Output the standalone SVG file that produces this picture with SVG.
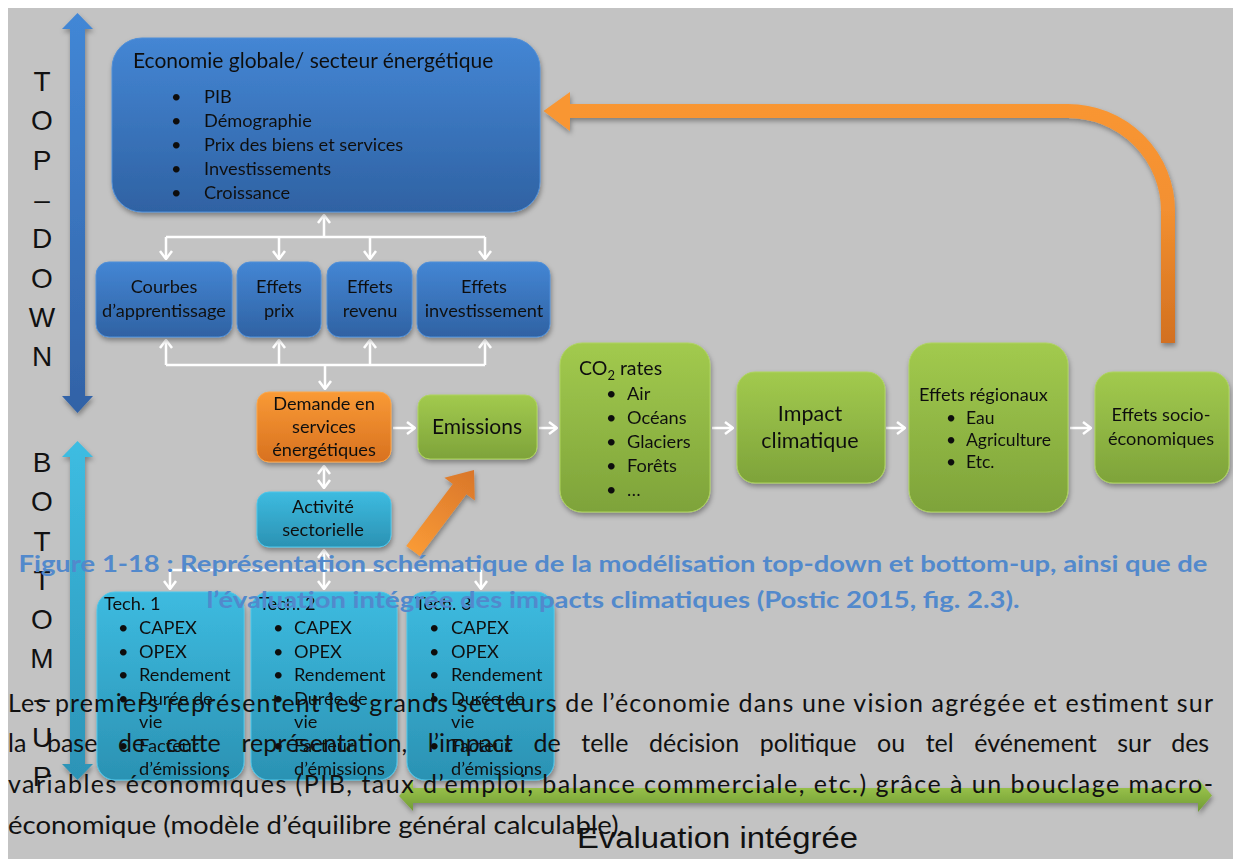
<svg xmlns="http://www.w3.org/2000/svg" width="1233" height="859" viewBox="0 0 1233 859">
<style>
.t{font-family:Lato,"Open Sans","Liberation Sans",sans-serif;fill:#111;}
.s16{font-size:17.5px}.s17{font-size:18.2px}.s18{font-size:19.5px}.s19{font-size:21px}.s20{font-size:21px}
.m{text-anchor:middle}
.big{font-family:"Liberation Sans",Arial,sans-serif;font-size:28px;fill:#111;text-anchor:middle}
.cap{font-family:Lato,"Open Sans",sans-serif;font-weight:bold;font-size:23.5px;fill:#5289cc;text-anchor:middle}
.par{font-family:Lato,"Open Sans",sans-serif;font-size:25px;fill:#111}
.con{fill:none;stroke:#fff;stroke-width:2.5}
</style>
<defs>
<filter id="sh" x="-10%" y="-10%" width="130%" height="140%"><feDropShadow dx="1" dy="3" stdDeviation="2.5" flood-color="#000" flood-opacity="0.35"/></filter>
<linearGradient id="gB" x1="0" y1="0" x2="0" y2="1"><stop offset="0" stop-color="#4486d4"/><stop offset="1" stop-color="#2f62a3"/></linearGradient>
<linearGradient id="gO" x1="0" y1="0" x2="0" y2="1"><stop offset="0" stop-color="#f99a36"/><stop offset="1" stop-color="#d8711f"/></linearGradient>
<linearGradient id="gG" x1="0" y1="0" x2="0" y2="1"><stop offset="0" stop-color="#a2ca4e"/><stop offset="1" stop-color="#7ea33a"/></linearGradient>
<linearGradient id="gC" x1="0" y1="0" x2="0" y2="1"><stop offset="0" stop-color="#3dbbe0"/><stop offset="1" stop-color="#2b92b3"/></linearGradient>
<linearGradient id="gTD" gradientUnits="userSpaceOnUse" x1="0" y1="13" x2="0" y2="413"><stop offset="0" stop-color="#4287d6"/><stop offset="1" stop-color="#3262a6"/></linearGradient>
<linearGradient id="gBU" gradientUnits="userSpaceOnUse" x1="0" y1="441" x2="0" y2="781"><stop offset="0" stop-color="#3dbde2"/><stop offset="1" stop-color="#2c93b6"/></linearGradient>
<linearGradient id="gFB" gradientUnits="userSpaceOnUse" x1="0" y1="100" x2="0" y2="343"><stop offset="0" stop-color="#f99633"/><stop offset="0.45" stop-color="#f39030"/><stop offset="1" stop-color="#d27020"/></linearGradient>
<linearGradient id="gDi" gradientUnits="userSpaceOnUse" x1="413" y1="551" x2="474" y2="470"><stop offset="0" stop-color="#f99a36"/><stop offset="1" stop-color="#d9762a"/></linearGradient>
<linearGradient id="gEv" gradientUnits="userSpaceOnUse" x1="0" y1="780" x2="0" y2="812"><stop offset="0" stop-color="#a4cc50"/><stop offset="1" stop-color="#6f9a34"/></linearGradient>
<marker id="ch" viewBox="0 0 10 14" refX="9" refY="7" markerWidth="10" markerHeight="14" markerUnits="userSpaceOnUse" orient="auto-start-reverse"><path d="M1,1 L9,7 L1,13" fill="none" stroke="#fff" stroke-width="2.5"/></marker>
</defs>

<rect x="8" y="8" width="1225" height="851" fill="#c3c3c3"/>

<!-- side arrows -->
<g id="top-down-arrow" filter="url(#sh)">
<polygon points="77.5,13 93,29 85,29 85,396 93,396 77.5,413 62,396 70,396 70,29 62,29" fill="url(#gTD)"/>
</g>
<g id="bottom-up-arrow" filter="url(#sh)">
<polygon points="77.5,441 93,457 85,457 85,764 93,764 77.5,780 62,764 70,764 70,457 62,457" fill="url(#gBU)"/>
</g>
<g id="top-down-label">
<text class="big" x="42" y="91">T</text>
<text class="big" x="42" y="130">O</text>
<text class="big" x="42" y="170">P</text>
<text class="big" x="42" y="209">–</text>
<text class="big" x="42" y="248">D</text>
<text class="big" x="42" y="288">O</text>
<text class="big" x="42" y="327">W</text>
<text class="big" x="42" y="366">N</text>
</g>
<g id="bottom-up-label">
<text class="big" x="42" y="472">B</text>
<text class="big" x="42" y="511">O</text>
<text class="big" x="42" y="551">T</text>
<text class="big" x="42" y="590">T</text>
<text class="big" x="42" y="629">O</text>
<text class="big" x="42" y="668">M</text>
<text class="big" x="42" y="708">–</text>
<text class="big" x="42" y="747">U</text>
<text class="big" x="42" y="786">P</text>
</g>

<!-- connectors -->
<g id="connectors">
<path class="con" d="M324,237 V215" marker-end="url(#ch)"/>
<path class="con" d="M166,237 H485"/>
<path class="con" d="M166,237 V259" marker-end="url(#ch)"/>
<path class="con" d="M279,237 V259" marker-end="url(#ch)"/>
<path class="con" d="M370,237 V259" marker-end="url(#ch)"/>
<path class="con" d="M485,237 V259" marker-end="url(#ch)"/>
<path class="con" d="M166,365 V340" marker-end="url(#ch)"/>
<path class="con" d="M279,365 V340" marker-end="url(#ch)"/>
<path class="con" d="M370,365 V340" marker-end="url(#ch)"/>
<path class="con" d="M485,365 V340" marker-end="url(#ch)"/>
<path class="con" d="M166,365 H485"/>
<path class="con" d="M325,365 V389" marker-end="url(#ch)"/>
<path class="con" d="M324,466 V488" marker-start="url(#ch)" marker-end="url(#ch)"/>
<path class="con" d="M393,428 H415" marker-end="url(#ch)"/>
<path class="con" d="M539,428 H557" marker-end="url(#ch)"/>
<path class="con" d="M712,428 H733" marker-end="url(#ch)"/>
<path class="con" d="M886,428 H905" marker-end="url(#ch)"/>
<path class="con" d="M1070,428 H1091" marker-end="url(#ch)"/>
<path class="con" d="M324,570 V550" marker-end="url(#ch)"/>
<path class="con" d="M170,570 H481"/>
<path class="con" d="M170,570 V589" marker-end="url(#ch)"/>
<path class="con" d="M324,570 V589" marker-end="url(#ch)"/>
<path class="con" d="M481,570 V589" marker-end="url(#ch)"/>
<g filter="url(#sh)">
<path d="M1168,343 V211 A100,100 0 0 0 1068,111 H569" fill="none" stroke="url(#gFB)" stroke-width="14"/>
<polygon points="543.5,111 570,92 570,131" fill="#f99633"/>
<polygon points="406.2,545.9 452.8,484.1 444.4,477.8 474,470 474.8,500.6 466.4,494.3 419.8,556.1" fill="url(#gDi)"/>
</g>
</g>

<!-- nodes -->
<g id="economie" filter="url(#sh)">
<rect x="112" y="38" width="428" height="174" rx="30" fill="url(#gB)" stroke="#4f8fd8" stroke-width="1"/>
<text class="t s19" x="133" y="68">Economie globale/ secteur énergétique</text>
<g class="t s17">
<text x="171" y="103">•</text><text x="204" y="103">PIB</text>
<text x="171" y="127">•</text><text x="204" y="127">Démographie</text>
<text x="171" y="151">•</text><text x="204" y="151">Prix des biens et services</text>
<text x="171" y="175">•</text><text x="204" y="175">Investissements</text>
<text x="171" y="199">•</text><text x="204" y="199">Croissance</text>
</g>
</g>
<g id="courbes" filter="url(#sh)">
<rect x="96" y="262" width="136" height="75" rx="13" fill="url(#gB)" stroke="#4f8fd8"/>
<text class="t s17 m" x="164" y="293">Courbes</text>
<text class="t s17 m" x="164" y="317">d’apprentissage</text>
</g>
<g id="effets-prix" filter="url(#sh)">
<rect x="237" y="262" width="84" height="75" rx="13" fill="url(#gB)" stroke="#4f8fd8"/>
<text class="t s17 m" x="279" y="293">Effets</text>
<text class="t s17 m" x="279" y="317">prix</text>
</g>
<g id="effets-revenu" filter="url(#sh)">
<rect x="327" y="262" width="85" height="75" rx="13" fill="url(#gB)" stroke="#4f8fd8"/>
<text class="t s17 m" x="370" y="293">Effets</text>
<text class="t s17 m" x="370" y="317">revenu</text>
</g>
<g id="effets-investissement" filter="url(#sh)">
<rect x="417" y="262" width="133" height="75" rx="13" fill="url(#gB)" stroke="#4f8fd8"/>
<text class="t s17 m" x="484" y="293">Effets</text>
<text class="t s17 m" x="484" y="317">investissement</text>
</g>
<g id="demande" filter="url(#sh)">
<rect x="257" y="392" width="134" height="70" rx="12" fill="url(#gO)" stroke="#fba64a"/>
<text class="t s17 m" x="324" y="410">Demande en</text>
<text class="t s17 m" x="324" y="433">services</text>
<text class="t s17 m" x="324" y="456">énergétiques</text>
</g>
<g id="emissions" filter="url(#sh)">
<rect x="418" y="395" width="119" height="64" rx="12" fill="url(#gG)" stroke="#aed45e"/>
<text class="t s20 m" x="477" y="434">Emissions</text>
</g>
<g id="co2" filter="url(#sh)">
<rect x="560" y="343" width="150" height="169" rx="22" fill="url(#gG)" stroke="#aed45e"/>
<text class="t s18" x="579" y="375">CO<tspan font-size="13" dy="5">2</tspan><tspan dy="-5"> rates</tspan></text>
<g class="t s17">
<text x="606" y="400">•</text><text x="627" y="400">Air</text>
<text x="606" y="424">•</text><text x="627" y="424">Océans</text>
<text x="606" y="448">•</text><text x="627" y="448">Glaciers</text>
<text x="606" y="472">•</text><text x="627" y="472">Forêts</text>
<text x="606" y="496">•</text><text x="627" y="496">…</text>
</g>
</g>
<g id="impact" filter="url(#sh)">
<rect x="737" y="372" width="148" height="111" rx="18" fill="url(#gG)" stroke="#aed45e"/>
<text class="t m" font-size="21.5" x="810" y="421">Impact</text>
<text class="t m" font-size="21.5" x="810" y="448">climatique</text>
</g>
<g id="effets-regionaux" filter="url(#sh)">
<rect x="909" y="343" width="159" height="169" rx="22" fill="url(#gG)" stroke="#aed45e"/>
<text class="t s17" x="919" y="401">Effets régionaux</text>
<g class="t s16">
<text x="946" y="424">•</text><text x="966" y="424">Eau</text>
<text x="946" y="446">•</text><text x="966" y="446">Agriculture</text>
<text x="946" y="468">•</text><text x="966" y="468">Etc.</text>
</g>
</g>
<g id="effets-socio" filter="url(#sh)">
<rect x="1095" y="372" width="134" height="111" rx="18" fill="url(#gG)" stroke="#aed45e"/>
<text class="t s17 m" x="1161" y="421">Effets socio-</text>
<text class="t s17 m" x="1161" y="445">économiques</text>
</g>
<g id="activite" filter="url(#sh)">
<rect x="257" y="492" width="134" height="55" rx="12" fill="url(#gC)" stroke="#4cc6ea"/>
<text class="t s17 m" x="323" y="513">Activité</text>
<text class="t s17 m" x="323" y="536">sectorielle</text>
</g>
<g id="tech1" filter="url(#sh)">
<rect x="97" y="592" width="147" height="188" rx="18" fill="url(#gC)" stroke="#4cc6ea"/>
<g class="t s17">
<text x="104" y="610">Tech. 1</text>
<text x="118" y="634">•</text><text x="139" y="634">CAPEX</text>
<text x="118" y="657.5">•</text><text x="139" y="657.5">OPEX</text>
<text x="118" y="681">•</text><text x="139" y="681">Rendement</text>
<text x="118" y="704.5">•</text><text x="139" y="704.5">Durée de</text>
<text x="139" y="728">vie</text>
<text x="118" y="751.5">•</text><text x="139" y="751.5">Facteur</text>
<text x="139" y="775">d’émissions</text>
</g>
</g>
<g id="tech2" filter="url(#sh)">
<rect x="251" y="592" width="146" height="188" rx="18" fill="url(#gC)" stroke="#4cc6ea"/>
<g class="t s17">
<text x="259" y="610">Tech. 2</text>
<text x="273" y="634">•</text><text x="294" y="634">CAPEX</text>
<text x="273" y="657.5">•</text><text x="294" y="657.5">OPEX</text>
<text x="273" y="681">•</text><text x="294" y="681">Rendement</text>
<text x="273" y="704.5">•</text><text x="294" y="704.5">Durée de</text>
<text x="294" y="728">vie</text>
<text x="273" y="751.5">•</text><text x="294" y="751.5">Facteur</text>
<text x="294" y="775">d’émissions</text>
</g>
</g>
<g id="tech3" filter="url(#sh)">
<rect x="407" y="592" width="147" height="188" rx="18" fill="url(#gC)" stroke="#4cc6ea"/>
<g class="t s17">
<text x="415" y="610">Tech. 3</text>
<text x="429" y="634">•</text><text x="451" y="634">CAPEX</text>
<text x="429" y="657.5">•</text><text x="451" y="657.5">OPEX</text>
<text x="429" y="681">•</text><text x="451" y="681">Rendement</text>
<text x="429" y="704.5">•</text><text x="451" y="704.5">Durée de</text>
<text x="451" y="728">vie</text>
<text x="429" y="751.5">•</text><text x="451" y="751.5">Facteur</text>
<text x="451" y="775">d’émissions</text>
</g>
</g>

<g id="evaluation" filter="url(#sh)">
<polygon points="399,796 413,780 413,788 1198,788 1198,779 1212,795.5 1198,812 1198,803 413,803 413,811" fill="url(#gEv)"/>
</g>
<text x="577" y="848" font-family="'Liberation Sans',Arial,sans-serif" font-size="30" fill="#111" textLength="281" lengthAdjust="spacingAndGlyphs">Evaluation intégrée</text>

<!-- overlaid document text -->
<g id="caption">
<text class="cap" x="613" y="572" textLength="1189" lengthAdjust="spacingAndGlyphs">Figure 1-18 : Représentation schématique de la modélisation top-down et bottom-up, ainsi que de</text>
<text class="cap" x="613" y="608" textLength="813" lengthAdjust="spacingAndGlyphs">l’évaluation intégrée des impacts climatiques (Postic 2015, fig. 2.3).</text>
</g>
<g id="paragraph">
<text class="par" x="8" y="712" textLength="1205" lengthAdjust="spacing">Les premiers représentent les grands secteurs de l’économie dans une vision agrégée et estiment sur</text>
<text class="par" x="8" y="752" word-spacing="14.2">la base de cette représentation, l’impact de telle décision politique ou tel événement sur des</text>
<text class="par" x="8" y="793" textLength="1205" lengthAdjust="spacing">variables économiques (PIB, taux d’emploi, balance commerciale, etc.) grâce à un bouclage macro-</text>
<text class="par" x="8" y="834" textLength="617" lengthAdjust="spacingAndGlyphs">économique (modèle d’équilibre général calculable).</text>
</g>
</svg>
